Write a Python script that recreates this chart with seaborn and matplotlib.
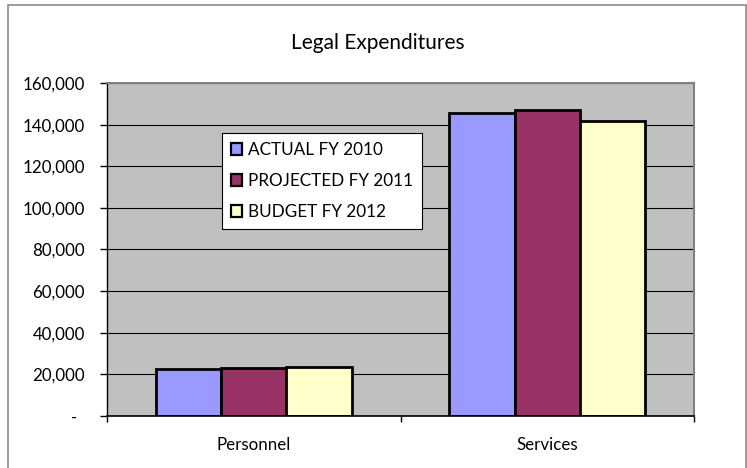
import numpy as np
import pandas as pd
import matplotlib
matplotlib.use("Agg")
import matplotlib.pyplot as plt
import matplotlib.transforms as mtransforms
from matplotlib.patches import Patch, Rectangle
from matplotlib.ticker import FuncFormatter
import seaborn as sns

# ---- data -------------------------------------------------------------
categories = ["Personnel", "Services"]
series_names = ["ACTUAL FY 2010", "PROJECTED FY 2011", "BUDGET FY 2012"]
actual_fy2010 = [22500, 145800]
projected_fy2011 = [23000, 147000]
budget_fy2012 = [23500, 141800]
series_colors = ["#9999FF", "#993366", "#FFFFCC"]
y_ticks = [0, 20000, 40000, 60000, 80000, 100000, 120000, 140000, 160000]
chart_title = "Legal Expenditures"

df = pd.DataFrame({
    "category": categories * 3,
    "series": np.repeat(series_names, len(categories)),
    "amount": actual_fy2010 + projected_fy2011 + budget_fy2012,
})

# ---- style ------------------------------------------------------------
sns.set_style("white")
plt.rcParams["font.family"] = ["Lato", "DejaVu Sans"]
plt.rcParams["text.color"] = "black"
plt.rcParams["xtick.color"] = "black"
plt.rcParams["ytick.color"] = "black"

W, H = 747, 468
fig = plt.figure(figsize=(W / 100, H / 100), dpi=100)
fig.patch.set_facecolor("white")
ax = fig.add_axes([107 / W, 52 / H, 587 / W, 333 / H])
ax.set_facecolor("#C0C0C0")

sns.barplot(
    data=df, x="category", y="amount", hue="series",
    order=categories, hue_order=series_names, palette=series_colors,
    width=0.668, saturation=1, edgecolor="black", linewidth=2.0,
    errorbar=None, legend=False, ax=ax,
)

# ---- axes -------------------------------------------------------------
ax.set_xlim(-0.5, 1.5)
ax.set_ylim(0, 160000)
ax.set_yticks(y_ticks)
ax.yaxis.set_major_formatter(
    FuncFormatter(lambda v, _: "-" if v == 0 else f"{v:,.0f}")
)
ax.set_xlabel("")
ax.set_ylabel("")
ax.yaxis.grid(True, color="black", linewidth=0.8)
ax.xaxis.grid(False)
ax.set_axisbelow(True)

ax.tick_params(axis="y", which="major", left=True, length=5, width=1,
               pad=10.8, labelsize=12.2)
ax.tick_params(axis="x", which="major", bottom=True, length=0,
               pad=15, labelsize=12.2)
ax.set_xticks([-0.5, 0.5, 1.5], minor=True)
ax.tick_params(axis="x", which="minor", bottom=True, length=4.5, width=1)

# the zero label sits a little left of the others (accounting format)
zero_label = ax.get_yticklabels()[0]
zero_label.set_transform(
    zero_label.get_transform()
    + mtransforms.ScaledTranslation(-8 / 100, 0, fig.dpi_scale_trans)
)

for side in ("top", "right"):
    ax.spines[side].set_color("#808080")
    ax.spines[side].set_linewidth(1.5)
ax.spines["left"].set_color("black")
ax.spines["left"].set_linewidth(1.0)
ax.spines["bottom"].set_color("black")
ax.spines["bottom"].set_linewidth(1.2)

# ---- legend -----------------------------------------------------------
handles = [Patch(facecolor=c, edgecolor="black", linewidth=1.6)
           for c in series_colors]
leg = ax.legend(
    handles, series_names, loc="upper left",
    bbox_to_anchor=(222 / W, 1 - 133 / H), bbox_transform=fig.transFigure,
    borderaxespad=0, fancybox=False, frameon=True, edgecolor="black",
    facecolor="white", framealpha=1, fontsize=12.3,
    handlelength=0.7, handleheight=0.7, handletextpad=0.35,
    labelspacing=0.9, borderpad=0.5,
)
leg.get_frame().set_linewidth(0.8)

# ---- title and chart border ----------------------------------------------
fig.text(378 / W, 1 - 49.3 / H, chart_title, ha="center", va="baseline",
         fontsize=15)
fig.add_artist(Rectangle((8 / W, -0.05), (746 - 8) / W, 1.05 - 5 / H,
                         transform=fig.transFigure, fill=False,
                         edgecolor="#808080", linewidth=1.1))

fig.savefig("out.png", dpi=100)
